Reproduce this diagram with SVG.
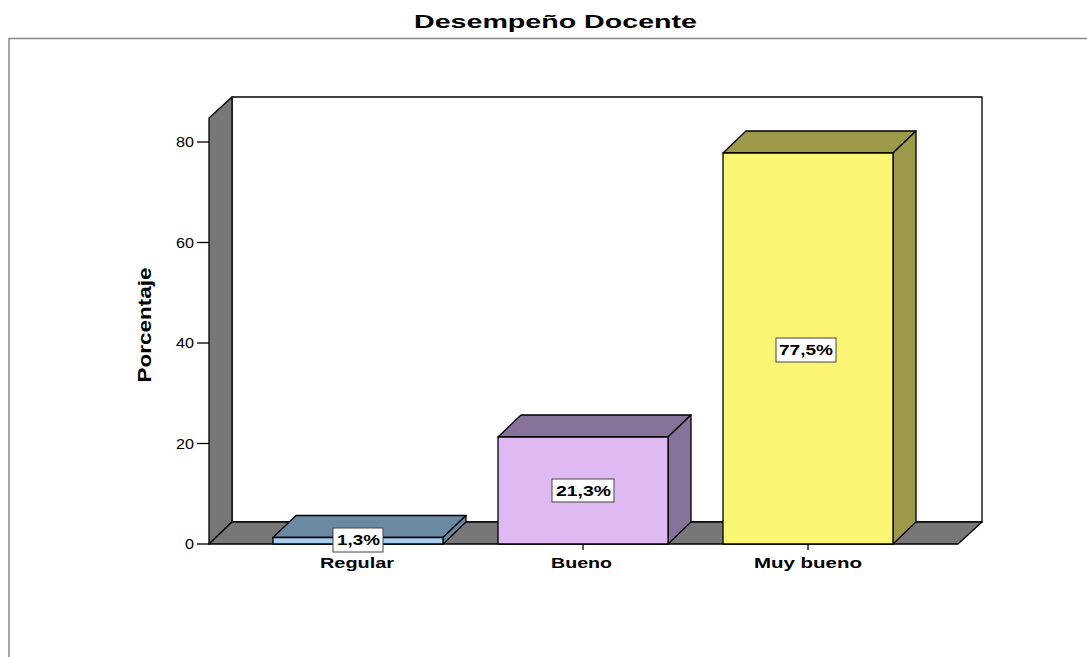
<svg xmlns="http://www.w3.org/2000/svg" width="1087" height="657" viewBox="0 0 1087 657">
<style>
.t{font-family:"Liberation Sans",Arial,sans-serif;fill:#000}
.tick{font-size:14px;text-anchor:end}
.cat{font-size:14px;font-weight:bold;text-anchor:middle}
.lbl{font-size:14px;font-weight:bold;text-anchor:middle}
.e{stroke:#000;stroke-width:1.3;stroke-linejoin:round}
.box{fill:#fff;stroke:#444;stroke-width:1}
</style>
<rect width="1087" height="657" fill="#fff"/>
<path d="M9,657 V38.5 H1087" fill="none" stroke="#888" stroke-width="1.5"/>
<text class="t" x="555.5" y="28" font-size="19" font-weight="bold" text-anchor="middle" textLength="283" lengthAdjust="spacingAndGlyphs">Desempeño Docente</text>
<g id="axes">
<rect x="232" y="97" width="750" height="425" fill="#fff" class="e"/>
<polygon points="209,118 232,97 232,522 209,544" fill="#777" class="e"/>
<polygon points="209,544 232,522 982,522 958,544" fill="#777" class="e"/>
<g stroke="#000" stroke-width="1.3">
<line x1="197" y1="544" x2="209" y2="544"/>
<line x1="197" y1="443.5" x2="209" y2="443.5"/>
<line x1="197" y1="343" x2="209" y2="343"/>
<line x1="197" y1="242.5" x2="209" y2="242.5"/>
<line x1="197" y1="142" x2="209" y2="142"/>
<line x1="358" y1="544" x2="358" y2="550"/>
<line x1="583" y1="544" x2="583" y2="550"/>
<line x1="808" y1="544" x2="808" y2="550"/>
</g>
<text class="t tick" x="194" y="549" textLength="9" lengthAdjust="spacingAndGlyphs">0</text>
<text class="t tick" x="194" y="448.5" textLength="18" lengthAdjust="spacingAndGlyphs">20</text>
<text class="t tick" x="194" y="348" textLength="18" lengthAdjust="spacingAndGlyphs">40</text>
<text class="t tick" x="194" y="247.5" textLength="18" lengthAdjust="spacingAndGlyphs">60</text>
<text class="t tick" x="194" y="147" textLength="18" lengthAdjust="spacingAndGlyphs">80</text>
<text class="t" transform="translate(151,325) rotate(-90)" font-size="18" font-weight="bold" text-anchor="middle" textLength="115" lengthAdjust="spacingAndGlyphs">Porcentaje</text>
<text class="t cat" x="357" y="568" textLength="74" lengthAdjust="spacingAndGlyphs">Regular</text>
<text class="t cat" x="581.5" y="568" textLength="61" lengthAdjust="spacingAndGlyphs">Bueno</text>
<text class="t cat" x="808" y="568" textLength="108" lengthAdjust="spacingAndGlyphs">Muy bueno</text>
</g>
<g id="bar-regular">
<polygon points="273,537.5 296,515.5 466,515.5 443,537.5" fill="#6a8aa3" class="e"/>
<polygon points="443,537.5 466,515.5 466,522 443,544" fill="#6a8aa3" class="e"/>
<rect x="273" y="537.5" width="170" height="6.5" fill="#a8cdf0" class="e"/>
<rect x="333" y="528" width="50" height="24" class="box"/>
<text class="t lbl" x="358.5" y="545" textLength="43" lengthAdjust="spacingAndGlyphs">1,3%</text>
</g>
<g id="bar-bueno">
<polygon points="498,437 521,415 691,415 668,437" fill="#87729a" class="e"/>
<polygon points="668,437 691,415 691,522 668,544" fill="#87729a" class="e"/>
<rect x="498" y="437" width="170" height="107" fill="#dfb9f2" class="e"/>
<rect x="552" y="479" width="62" height="23" class="box"/>
<text class="t lbl" x="583.5" y="495.5" textLength="55" lengthAdjust="spacingAndGlyphs">21,3%</text>
</g>
<g id="bar-muybueno">
<polygon points="723,153 746,131 916,131 893,153" fill="#9c9a48" class="e"/>
<polygon points="893,153 916,131 916,522 893,544" fill="#9c9a48" class="e"/>
<rect x="723" y="153" width="170" height="391" fill="#faf572" class="e"/>
<rect x="776" y="338" width="60" height="24" class="box"/>
<text class="t lbl" x="806" y="355" textLength="54" lengthAdjust="spacingAndGlyphs">77,5%</text>
</g>
</svg>
